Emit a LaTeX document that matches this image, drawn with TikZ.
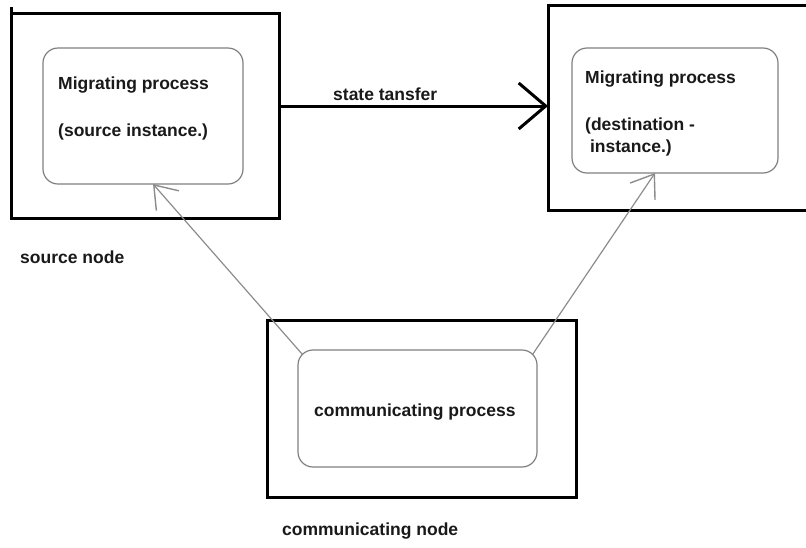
\documentclass[tikz,border=0pt]{standalone}
\usepackage{fontspec}
\setmainfont{Liberation Sans}
\usetikzlibrary{arrows.meta}

\tikzset{
  hostbox/.style={draw=black, line width=3pt, rectangle, inner sep=0pt, outer sep=0pt},
  procbox/.style={draw=black!50, line width=1.2pt, rectangle, rounded corners=15pt,
                  inner sep=0pt, outer sep=0pt},
  lbl/.style={inner sep=0pt, anchor=base west, text=black!90,
              font=\fontsize{17.5}{21}\selectfont\bfseries},
  msg/.style={draw=black!45, line width=1.2pt,
              -{Straight Barb[length=21pt, width=30pt, line width=1.4pt]}},
  transfer/.style={draw=black, line width=3pt,
              -{Straight Barb[length=27pt, width=46pt, line width=3pt]}}
}

\begin{document}
\begin{tikzpicture}[x=1pt, y=-1pt]
  \clip (0,0) rectangle (806,547);
  \useasboundingbox (0,0) rectangle (806,547);

  % host machines
  \node[hostbox, minimum width=268pt, minimum height=205pt] (srcnode) at (145,115.5) {};
  \node[hostbox, minimum width=268pt, minimum height=205pt] (dstnode) at (682,107.5) {};
  \node[hostbox, minimum width=309pt, minimum height=177pt] (comnode) at (421.5,408.5) {};
  \draw[line width=3pt] (srcnode.north west) -- ++(0,-6);

  % processes
  \node[procbox, minimum width=200pt, minimum height=136pt] (srcproc) at (143,116) {};
  \node[procbox, minimum width=206pt, minimum height=125pt] (dstproc) at (675,110.5) {};
  \node[procbox, minimum width=239pt, minimum height=117pt] (comproc) at (417.5,408.5) {};

  % process labels
  \node[lbl] (srct1) at (58,89) {Migrating process};
  \node[lbl] (srct2) at (58,136) {(source instance.)};
  \node[lbl] (dstt1) at (585,83) {Migrating process};
  \node[lbl] (dstt2) at (585,130) {(destination -};
  \node[lbl] (dstt3) at (585,152) {\ instance.)};
  \node[lbl] (comt1) at (314,416) {communicating process};

  % host labels
  \node[lbl] (srclbl) at (20,263) {source node};
  \node[lbl] (comlbl) at (282,535) {communicating node};

  % state transfer between hosts
  \coordinate (stfrom) at ([yshift=9.5pt]srcnode.east);
  \draw[transfer] (stfrom) -- (stfrom -| dstnode.west);
  \node[lbl] (stlbl) at (333,100) {state tansfer};

  % messages from the communicating process
  \draw[msg] ([shift={(4.4,4.4)}]comproc.north west) -- ([xshift=110pt]srcproc.south west);
  \draw[msg] ([shift={(-4.4,4.4)}]comproc.north east) -- ([xshift=83pt]dstproc.south west);
\end{tikzpicture}
\end{document}
